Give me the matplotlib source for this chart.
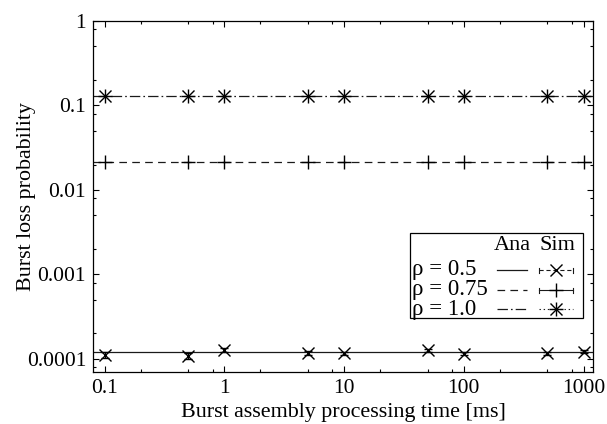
import matplotlib
matplotlib.use('Agg')
import matplotlib.pyplot as plt
from matplotlib.lines import Line2D
from matplotlib.patches import Rectangle
from matplotlib.ticker import FixedLocator, NullFormatter

# ---------------- data ----------------
proc_time_ms = [0.1, 0.5, 1, 5, 10, 50, 100, 500, 1000]

ana_rho05 = 1.2e-4
ana_rho075 = 0.0214
ana_rho10 = 0.128

sim_rho05 = [1.12e-4, 1.08e-4, 1.28e-4, 1.18e-4, 1.17e-4, 1.26e-4, 1.15e-4, 1.17e-4, 1.21e-4]
err_rho05 = [0.10e-4, 0.08e-4, 0.07e-4, 0.07e-4, 0.05e-4, 0.06e-4, 0.05e-4, 0.05e-4, 0.05e-4]
sim_rho075 = [0.0214, 0.0214, 0.0214, 0.0214, 0.0214, 0.0214, 0.0214, 0.0214, 0.0214]
sim_rho10 = [0.128, 0.128, 0.128, 0.128, 0.128, 0.128, 0.128, 0.128, 0.128]

x_ticks = [0.1, 1, 10, 100, 1000]
x_tick_labels = ['0.1', '1', '10', '100', '1000']
y_ticks = [1e-4, 1e-3, 1e-2, 1e-1, 1]
y_tick_labels = ['0.0001', '0.001', '0.01', '0.1', '1']

legend_labels = ['\u03c1 = 0.5', '\u03c1 = 0.75', '\u03c1 = 1.0']

# ---------------- style ----------------
plt.rcParams['font.family'] = ['Liberation Serif', 'DejaVu Serif']
plt.rcParams['font.size'] = 15
plt.rcParams['lines.scale_dashes'] = False

W, H = 607, 424
fig = plt.figure(figsize=(W / 100, H / 100), dpi=100)
ax = fig.add_axes([93 / W, 1 - 372 / H, 500 / W, 351 / H])

ax.set_xscale('log')
ax.set_yscale('log')
ax.set_xlim(0.08, 1200)
ax.set_ylim(7e-5, 1)

lc = '#1a1a1a'
lw = 0.9
dash075 = (0, (5.5, 3.8))
dashdot10 = (0, (7.5, 2.2, 1.2, 2.2))

ax.axhline(ana_rho05, color=lc, lw=lw, ls='-')
ax.axhline(ana_rho075, color=lc, lw=lw, ls=dash075)
ax.axhline(ana_rho10, color=lc, lw=lw, ls=dashdot10)

ax.errorbar(proc_time_ms, sim_rho05, yerr=err_rho05, fmt='x', color='k',
            ms=8, mew=1.0, elinewidth=0.8, capsize=3, capthick=0.8)
ax.plot(proc_time_ms, sim_rho075, ls='none', marker='+', color='k', ms=10, mew=1.0)
ax.plot(proc_time_ms, sim_rho10, ls='none', marker='+', color='k', ms=10, mew=1.0)
ax.plot(proc_time_ms, sim_rho10, ls='none', marker='x', color='k', ms=8, mew=1.0)

# ticks
ax.xaxis.set_major_locator(FixedLocator(x_ticks))
ax.set_xticklabels(x_tick_labels, fontsize=15.5)
ax.yaxis.set_major_locator(FixedLocator(y_ticks))
ax.set_yticklabels(y_tick_labels, fontsize=15.5)
minor_x = [m * d for d in [0.1, 1, 10, 100] for m in (2, 5, 8)]
minor_y = [m * d for d in [1e-5, 1e-4, 1e-3, 1e-2, 1e-1] for m in (2, 5, 8)]
ax.xaxis.set_minor_locator(FixedLocator(minor_x))
ax.yaxis.set_minor_locator(FixedLocator(minor_y))
ax.xaxis.set_minor_formatter(NullFormatter())
ax.yaxis.set_minor_formatter(NullFormatter())
ax.tick_params(which='both', direction='in', top=True, right=True, color='k', width=0.8)
ax.tick_params(which='major', length=4.5, pad=5)
ax.tick_params(which='minor', length=2.5)
for s in ax.spines.values():
    s.set_linewidth(0.9)
    s.set_color('k')

ax.set_xlabel('Burst assembly processing time [ms]', labelpad=4, fontsize=15.8)
ax.set_ylabel('Burst loss probability', fontsize=15.8)
ax.yaxis.set_label_coords((36 - 93) / 500, 0.5)

# ---------------- manual legend ----------------
def fx(px):
    return px / W

def fy(py):
    return 1 - py / H

tf = fig.transFigure
fig.add_artist(Rectangle((fx(410), fy(318)), fx(583) - fx(410), fy(233) - fy(318),
                         transform=tf, fill=False, lw=0.9, ec='k'))
fig.text(fx(512), fy(245), 'Ana', transform=tf, ha='center', va='center', fontsize=16)
fig.text(fx(557), fy(245), 'Sim', transform=tf, ha='center', va='center', fontsize=16)
rows_y = [270, 290, 309]
ana_styles = ['-', dash075, dashdot10]
for lab, ry, st in zip(legend_labels, rows_y, ana_styles):
    fig.text(fx(412), fy(ry), lab, transform=tf, ha='left', va='center', fontsize=16.5)
    fig.add_artist(Line2D([fx(497), fx(527)], [fy(ry), fy(ry)], transform=tf,
                          color=lc, lw=lw, ls=st))

# sim samples
sim_ls = [(0, (3, 2)), '-', (0, (1, 2))]
for i, (ry, st) in enumerate(zip(rows_y, sim_ls)):
    fig.add_artist(Line2D([fx(539), fx(573)], [fy(ry), fy(ry)], transform=tf,
                          color=lc, lw=0.8, ls=st))
    if i < 2:
        for cx in (539, 573):
            fig.add_artist(Line2D([fx(cx), fx(cx)], [fy(ry - 2.5), fy(ry + 2.5)],
                                  transform=tf, color=lc, lw=0.8))
    if i == 0:
        fig.add_artist(Line2D([fx(556)], [fy(ry)], transform=tf, marker='x',
                              color='k', ms=8, mew=1.0, ls='none'))
    elif i == 1:
        fig.add_artist(Line2D([fx(556)], [fy(ry)], transform=tf, marker='+',
                              color='k', ms=10, mew=1.0, ls='none'))
    else:
        fig.add_artist(Line2D([fx(556)], [fy(ry)], transform=tf, marker='+',
                              color='k', ms=10, mew=1.0, ls='none'))
        fig.add_artist(Line2D([fx(556)], [fy(ry)], transform=tf, marker='x',
                              color='k', ms=8, mew=1.0, ls='none'))

fig.savefig('out.png', dpi=100)
